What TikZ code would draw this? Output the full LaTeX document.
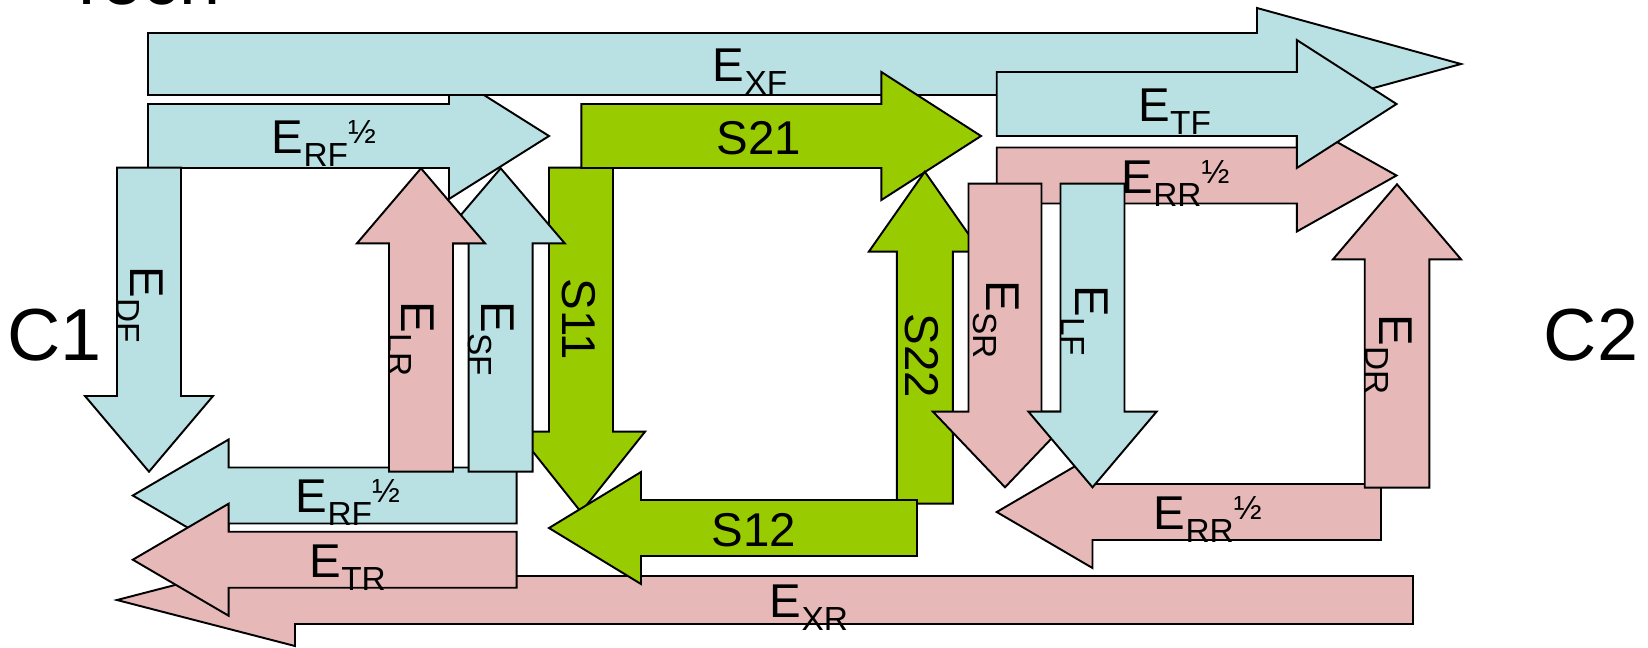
\documentclass[tikz,border=0pt]{standalone}
\usepackage{fontspec}
\setmainfont{Liberation Sans}
\usetikzlibrary{positioning}
\definecolor{fwdblue}{HTML}{B9E0E3}
\definecolor{revpink}{HTML}{E6B9B8}
\definecolor{sgreen}{HTML}{99CC00}

% block arrows: style, tail, head base, tip, centre, half shaft, half head
\newcommand{\harrow}[7]{%
  \filldraw[#1] (#2,#5-#6) -- (#3,#5-#6) -- (#3,#5-#7) -- (#4,#5)
    -- (#3,#5+#7) -- (#3,#5+#6) -- (#2,#5+#6) -- cycle;}
\newcommand{\varrow}[7]{%
  \filldraw[#1] (#2-#6,#3) -- (#2-#6,#4) -- (#2-#7,#4) -- (#2,#5)
    -- (#2+#7,#4) -- (#2+#6,#4) -- (#2+#6,#3) -- cycle;}
\newcommand{\lsub}[1]{\raisebox{-0.28em}{\fontsize{19}{19}\selectfont #1}}
\newcommand{\lhalf}{\raisebox{0.21em}{\fontsize{19}{19}\selectfont ½}}

\tikzset{
  fwd/.style={fill=fwdblue, draw=black},
  rev/.style={fill=revpink, draw=black},
  spar/.style={fill=sgreen, draw=black},
  lbl/.style={anchor=base west, inner sep=0pt, font=\fontsize{27}{27}\selectfont},
  vlbl/.style={lbl, rotate=-90},
  port/.style={anchor=base west, inner sep=0pt, font=\fontsize{42}{42}\selectfont}
}

\begin{document}
\begin{tikzpicture}[x=0.02cm, y=-0.02cm, line width=1.1pt]
\useasboundingbox (0,0) rectangle (1648,647);

% forward half, left loop
\harrow{fwd}{148}{449}{549}{136}{32}{63}
\harrow{fwd}{148}{1257}{1461}{64}{31}{56}
\varrow{fwd}{149}{167.7}{396}{471.7}{32}{64}
\harrow{fwd}{516.7}{228.6}{132.8}{495.5}{28}{56}
\varrow{spar}{581}{167.7}{431.7}{512}{32}{64}
\varrow{fwd}{500.7}{471.7}{243.3}{168.3}{32}{64}
\varrow{rev}{421}{471.7}{243.3}{168.3}{32}{64}
\harrow{spar}{581.4}{881.4}{981}{136}{32}{64}

% reverse half, right loop
\harrow{rev}{996.7}{1296.8}{1396.5}{175.5}{28}{56}
\harrow{fwd}{996.7}{1296.8}{1396.5}{104}{32}{64}
\varrow{spar}{924.8}{503.7}{251.7}{171.7}{28}{56}
\varrow{rev}{1005}{183.7}{411.7}{487.3}{36.5}{72}
\harrow{rev}{1381}{1092.5}{996.7}{512}{28}{56}
\varrow{fwd}{1092.5}{183.7}{411.7}{487.3}{32}{64}
\varrow{rev}{1397}{487.7}{259.3}{184.3}{32.3}{64}

% bottom row
\harrow{rev}{1413}{295}{117}{600}{24}{46}
\harrow{rev}{516.7}{228.6}{132.8}{559.7}{28}{56}
\harrow{spar}{917}{641}{549}{528}{28}{56}

% labels
\node[port] (ttl) at (64,4) {Tech};
\node[port] (c1) at (6.5,360) {C1};
\node[port] (c2) at (1543,360) {C2};

\node[lbl] (exf) at (712,81.7) {E\lsub{XF}};
\node[lbl] (erf1) at (271,153.3) {E\lsub{RF}\lhalf};
\node[lbl] (s21) at (716,154) {S21};
\node[lbl] (etf) at (1137.6,121.7) {E\lsub{TF}};
\node[lbl] (err1) at (1120.7,193.3) {E\lsub{RR}\lhalf};

\node[vlbl] (edf) at (130,265.5) {E\lsub{DF}};
\node[vlbl] (elr) at (401.7,301) {E\lsub{LR}};
\node[vlbl] (esf) at (481.7,301) {E\lsub{SF}};
\node[vlbl] (s11) at (562,278) {S11};
\node[vlbl] (s22) at (905,313) {S22};
\node[vlbl] (esr) at (986.7,279.5) {E\lsub{SR}};
\node[vlbl] (elf) at (1075,284.5) {E\lsub{LF}};
\node[vlbl] (edr) at (1379,314) {E\lsub{DR}};

\node[lbl] (erf2) at (295,512.7) {E\lsub{RF}\lhalf};
\node[lbl] (etr) at (308.7,577.3) {E\lsub{TR}};
\node[lbl] (exr) at (769,617.3) {E\lsub{XR}};
\node[lbl] (s12) at (710.5,546.7) {S12};
\node[lbl] (err2) at (1153,529.3) {E\lsub{RR}\lhalf};

\end{tikzpicture}
\end{document}
